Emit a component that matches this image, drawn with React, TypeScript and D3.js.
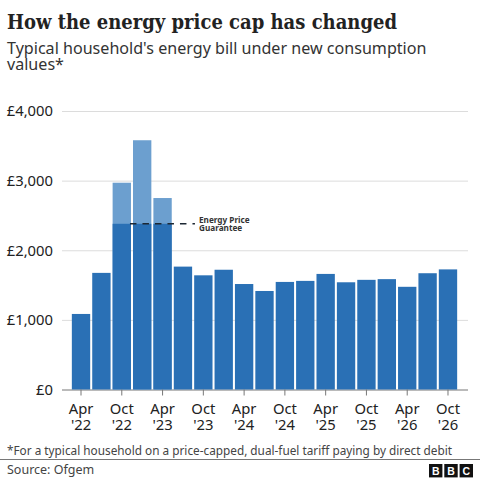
// App.tsx

import React, { useRef, useEffect } from "react";
import * as d3 from "d3";

const quarters = [
  "Apr '22", "Jul '22", "Oct '22", "Jan '23", "Apr '23", "Jul '23", "Oct '23",
  "Jan '24", "Apr '24", "Jul '24", "Oct '24", "Jan '25", "Apr '25", "Jul '25",
  "Oct '25", "Jan '26", "Apr '26", "Jul '26", "Oct '26",
];
const priceCap = [
  1085, 1675, 2970, 3580, 2750, 1765, 1640, 1720, 1515, 1415,
  1545, 1560, 1660, 1540, 1575, 1585, 1475, 1670, 1725,
];
const guarantee = 2380;
const yTicks = [0, 1000, 2000, 3000, 4000];
const xTicks = quarters.filter((q) => q.startsWith("Apr") || q.startsWith("Oct"));

const SANS = "'Noto Sans', 'Open Sans', sans-serif";

const App: React.FC = () => {
  const ref = useRef<SVGSVGElement | null>(null);

  useEffect(() => {
    const svg = d3.select(ref.current);
    svg.selectAll("*").remove();

    const x = d3.scaleBand<string>().domain(quarters).range([69.8, 459.2]).padding(0.1);
    const y = d3.scaleLinear().domain([0, 4000]).range([389.5, 111]);

    // gridlines + y labels
    const yAxis = svg.append("g").attr("transform", "translate(62,0)").call(
      d3.axisLeft(y).tickValues(yTicks).tickSize(0).tickPadding(9)
        .tickFormat((d) => `£${d3.format(",")(d as number)}`) as any
    );
    yAxis.select(".domain").remove();
    yAxis.selectAll("text")
      .style("font-family", SANS).style("font-size", "14.8px").style("fill", "#222");
    yAxis.selectAll(".tick line")
      .attr("x1", 0).attr("x2", 406)
      .attr("stroke", (d: any) => (d === 0 ? "#777" : "#dcdcdc"))
      .attr("stroke-width", 1);

    // bars
    const bars = svg.append("g");
    bars.selectAll("rect.cap")
      .data(quarters)
      .enter()
      .append("rect")
      .attr("class", "cap")
      .attr("x", (d) => x(d)!)
      .attr("width", x.bandwidth())
      .attr("y", (_, i) => y(priceCap[i]))
      .attr("height", (_, i) => y(0) - y(priceCap[i]))
      .attr("fill", (_, i) => (priceCap[i] > guarantee ? "#6c9fcf" : "#2a70b5"));
    bars.selectAll("rect.epg")
      .data(quarters.filter((_, i) => priceCap[i] > guarantee))
      .enter()
      .append("rect")
      .attr("class", "epg")
      .attr("x", (d) => x(d)!)
      .attr("width", x.bandwidth())
      .attr("y", y(guarantee))
      .attr("height", y(0) - y(guarantee))
      .attr("fill", "#2a70b5");

    // x axis
    const xAxis = svg.append("g").attr("transform", `translate(0,${y(0)})`).call(
      d3.axisBottom(x).tickValues(xTicks).tickSize(6).tickSizeOuter(0).tickFormat(() => "") as any
    );
    xAxis.select(".domain").remove();
    xAxis.selectAll(".tick line").attr("stroke", "#777");
    xAxis.selectAll(".tick text").each(function (d: any) {
      const [month, year] = d.split(" ");
      const t = d3.select(this)
        .attr("y", 0)
        .attr("dy", null)
        .style("font-family", SANS).style("font-size", "14.8px").style("fill", "#222");
      t.append("tspan").attr("x", 0).attr("y", 24.5).text(month);
      t.append("tspan").attr("x", 0).attr("y", 40.5).text(year);
    });

    // guarantee annotation
    const gx = x("Oct '22")! + x.bandwidth() - 1;
    svg.append("line")
      .attr("x1", gx).attr("x2", gx + 65)
      .attr("y1", y(guarantee)).attr("y2", y(guarantee))
      .attr("stroke", "#1c2733").attr("stroke-width", 1.6)
      .attr("stroke-dasharray", "6.5 6");
    const note = svg.append("text")
      .style("font-family", SANS).style("font-size", "8.2px")
      .style("font-weight", 700).style("fill", "#333");
    note.append("tspan").attr("x", 199).attr("y", 223).text("Energy Price");
    note.append("tspan").attr("x", 199).attr("y", 231).text("Guarantee");

    // headings
    svg.append("text").attr("x", 7).attr("y", 29)
      .attr("textLength", 390).attr("lengthAdjust", "spacingAndGlyphs")
      .style("font-family", "'DejaVu Serif', serif").style("font-weight", 700)
      .style("font-size", "20px").style("fill", "#222")
      .text("How the energy price cap has changed");
    svg.append("text").attr("x", 7).attr("y", 54)
      .style("font-family", SANS).style("font-size", "16.1px").style("fill", "#333")
      .text("Typical household's energy bill under new consumption");
    svg.append("text").attr("x", 7).attr("y", 70)
      .style("font-family", SANS).style("font-size", "16.1px").style("fill", "#333")
      .text("values*");

    // footer
    svg.append("text").attr("x", 7).attr("y", 455)
      .attr("textLength", 445).attr("lengthAdjust", "spacingAndGlyphs")
      .style("font-family", SANS).style("font-size", "12px").style("fill", "#444")
      .text("*For a typical household on a price-capped, dual-fuel tariff paying by direct debit");
    svg.append("line")
      .attr("x1", 0).attr("x2", 480).attr("y1", 459.5).attr("y2", 459.5)
      .attr("stroke", "#777").attr("stroke-width", 1);
    svg.append("text").attr("x", 7).attr("y", 474)
      .style("font-family", SANS).style("font-size", "12.5px").style("fill", "#444")
      .text("Source: Ofgem");

    // logo blocks
    const logo = svg.append("g");
    logo.selectAll("rect")
      .data(["B", "B", "C"])
      .enter()
      .append("rect")
      .attr("x", (_, i) => 429 + i * 15.3)
      .attr("y", 464)
      .attr("width", 13.4)
      .attr("height", 13.4)
      .attr("fill", "#111");
    logo.selectAll("text")
      .data(["B", "B", "C"])
      .enter()
      .append("text")
      .attr("x", (_, i) => 435.7 + i * 15.3)
      .attr("y", 475)
      .attr("text-anchor", "middle")
      .style("font-family", "'Liberation Sans', sans-serif")
      .style("font-weight", 700)
      .style("font-size", "10.5px")
      .style("fill", "#fff")
      .text((d) => d);
  }, []);

  return (
    <svg
      ref={ref}
      width={480}
      height={480}
      style={{ position: "absolute", left: 0, top: 0, background: "#fff" }}
    />
  );
};

export default App;
